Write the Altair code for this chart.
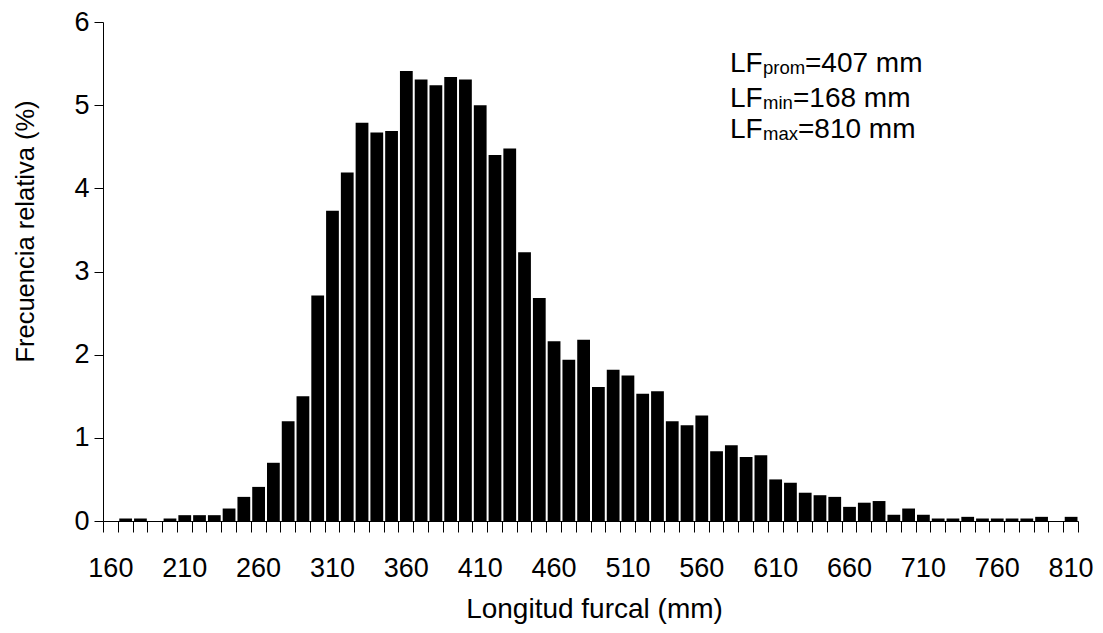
import altair as alt
import pandas as pd

# Bin labels (mm) and relative frequency (%)
BIN_START = list(range(160, 811, 10))
FREQ = [
    0.00, 0.03, 0.03, 0.00, 0.03, 0.07, 0.07, 0.07, 0.15, 0.29,
    0.41, 0.70, 1.20, 1.50, 2.71, 3.73, 4.19, 4.79, 4.67, 4.69,
    5.41, 5.31, 5.24, 5.34, 5.31, 5.00, 4.40, 4.48, 3.23, 2.68,
    2.16, 1.94, 2.18, 1.61, 1.82, 1.75, 1.53, 1.56, 1.20, 1.15,
    1.27, 0.84, 0.91, 0.77, 0.79, 0.50, 0.46, 0.34, 0.31, 0.29,
    0.17, 0.22, 0.24, 0.075, 0.15, 0.075, 0.03, 0.03, 0.05, 0.03,
    0.03, 0.03, 0.03, 0.05, 0.00, 0.05,
]
TICK_LABELS = [160, 210, 260, 310, 360, 410, 460, 510, 560, 610, 660, 710, 760, 810]
Y_TICKS = [0, 1, 2, 3, 4, 5, 6]
BIN_EDGES = [b - 5 for b in BIN_START] + [BIN_START[-1] + 5]

ANN_BASE = ["LF", "LF", "LF"]
ANN_SUB = ["prom", "min", "max"]
ANN_VAL = ["=407 mm", "=168 mm", "=810 mm"]

FONT = "Liberation Sans"

df = pd.DataFrame({"L": BIN_START, "f": FREQ})

xs = alt.Scale(domain=[BIN_EDGES[0], BIN_EDGES[-1]], nice=False, zero=False)
ys = alt.Scale(domain=[0, 6], nice=False)

bars = (
    alt.Chart(df)
    .transform_calculate(lo="datum.L - 5", hi="datum.L + 5")
    .mark_bar(color="black", binSpacing=2)
    .encode(
        x=alt.X(
            "lo:Q",
            bin="binned",
            scale=xs,
            axis=alt.Axis(
                orient="bottom",
                values=BIN_EDGES,
                labels=False,
                tickSize=11,
                grid=False,
                title="Longitud furcal (mm)",
                titleFontSize=28,
                titleX=491,
                titleY=96,
                titleAlign="center",
                titleBaseline="alphabetic",
            ),
        ),
        x2="hi:Q",
        y=alt.Y(
            "f:Q",
            scale=ys,
            axis=alt.Axis(
                values=Y_TICKS,
                tickSize=9,
                labelPadding=5,
                labelFontSize=27,
                grid=False,
                title="Frecuencia relativa (%)",
                titleFontSize=25.5,
                titleX=-70,
                titleY=209,
                titleAlign="center",
                titleBaseline="alphabetic",
            ),
        ),
    )
)

labels_layer = (
    alt.Chart(df)
    .mark_point(opacity=0)
    .encode(
        x=alt.X(
            "L:Q",
            scale=xs,
            axis=alt.Axis(
                orient="bottom",
                values=TICK_LABELS,
                ticks=False,
                tickSize=0,
                domain=False,
                grid=False,
                labelPadding=55,
                labelBaseline="alphabetic",
                labelFontSize=27,
                labelFlush=False,
                labelOverlap=False,
                format="d",
                title="",
            ),
        )
    )
)

layers = [bars, labels_layer]

line_y = [50, 85, 116]
sub_x = 660
val_x = [702, 690, 695]
for i in range(3):
    base = alt.Chart(pd.DataFrame({"t": [ANN_BASE[i]]})).mark_text(
        align="left", baseline="alphabetic", fontSize=28, font=FONT, color="black"
    ).encode(x=alt.value(627), y=alt.value(line_y[i]), text="t:N")
    sub = alt.Chart(pd.DataFrame({"t": [ANN_SUB[i]]})).mark_text(
        align="left", baseline="alphabetic", fontSize=18.5, font=FONT, color="black"
    ).encode(x=alt.value(sub_x), y=alt.value(line_y[i] + 2), text="t:N")
    val = alt.Chart(pd.DataFrame({"t": [ANN_VAL[i]]})).mark_text(
        align="left", baseline="alphabetic", fontSize=28, font=FONT, color="black"
    ).encode(x=alt.value(val_x[i]), y=alt.value(line_y[i]), text="t:N")
    layers += [base, sub, val]

chart = (
    alt.layer(*layers)
    .resolve_axis(x="independent")
    .properties(
        width=975,
        height=499,
        autosize=alt.AutoSizeParams(type="none"),
        padding={"left": 95, "top": 14, "right": 16, "bottom": 104},
    )
    .configure_axis(
        labelFont=FONT,
        titleFont=FONT,
        labelColor="black",
        titleColor="black",
        titleFontWeight="normal",
        domainColor="black",
        tickColor="black",
        domainWidth=1,
        tickWidth=1,
        labelFontSize=27,
    )
    .configure_view(strokeWidth=0)
)

chart.save("out.html", embed_options={"renderer": "svg", "actions": False})
